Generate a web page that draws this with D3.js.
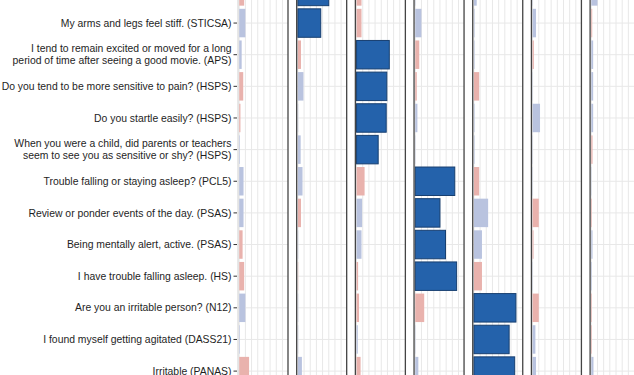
<!DOCTYPE html>
<html>
<head>
<meta charset="utf-8">
<script src="https://cdn.jsdelivr.net/npm/d3@7"></script>
<style>
  body { margin: 0; background: #fff; }
  svg { display: block; }
</style>
</head>
<body>
<div id="chart"></div>
<script>
// items, top to bottom (first one is cut off at the top of the picture)
const items = [
  "",
  "My arms and legs feel stiff. (STICSA)",
  "I tend to remain excited or moved for a long\nperiod of time after seeing a good movie. (APS)",
  "Do you tend to be more sensitive to pain? (HSPS)",
  "Do you startle easily? (HSPS)",
  "When you were a child, did parents or teachers\nseem to see you as sensitive or shy? (HSPS)",
  "Trouble falling or staying asleep? (PCL5)",
  "Review or ponder events of the day. (PSAS)",
  "Being mentally alert, active. (PSAS)",
  "I have trouble falling asleep. (HS)",
  "Are you an irritable person? (N12)",
  "I found myself getting agitated (DASS21)",
  "Irritable (PANAS)"
];

const factors = ["F1", "F2", "F3", "F4", "F5", "F6", "F7"];

// signed loadings, one array per factor, same order as items
const f1 = [-0.08, 0.10, 0.04, -0.065, -0.02, 0.01, 0.07, 0.07, -0.055, -0.08, 0.10, 0.01, -0.16];
const f2 = [0.50, 0.37, -0.05, 0.09, 0.005, 0.045, 0.075, -0.05, 0.005, -0.005, 0.005, 0.005, 0.065];
const f3 = [-0.08, -0.08, 0.53, 0.49, 0.48, 0.35, -0.13, 0.09, 0.08, -0.025, -0.04, 0.02, -0.065];
const f4 = [0.005, 0.10, -0.065, -0.025, 0.035, 0.005, 0.64, 0.40, 0.49, 0.67, -0.145, 0.005, 0.05];
const f5 = [0.045, 0.01, 0.01, -0.085, 0.01, 0.01, -0.085, 0.23, 0.13, -0.13, 0.68, 0.57, 0.66];
const f6 = [0.005, 0.055, -0.02, 0.005, 0.12, 0.005, 0.005, -0.10, -0.015, 0.005, -0.10, 0.045, 0.055];
const f7 = [0.10, -0.015, 0.03, 0.03, 0.03, -0.02, 0.005, -0.01, 0.02, 0.01, -0.01, -0.01, 0.035];

const loadings = [f1, f2, f3, f4, f5, f6, f7];
const gridTicks = [0, 0.1, 0.2, 0.3, 0.4, 0.5, 0.6, 0.7];

// DIMENSIONS
const width = 634, height = 375;
const panelW = 50;

const svg = d3.select('#chart')
  .append('svg')
  .attr('width', width)
  .attr('height', height);

const keys = items.map((d, i) => 'r' + i);

// Scales
const yScale = d3.scaleBand()
  .domain(keys)
  .range([-24.4, -24.4 + 13 * 31.64])
  .paddingInner(0.1)
  .paddingOuter(0.05);

const panelScale = d3.scaleBand()
  .domain(factors)
  .range([238, 238 + 7 * 57.58])
  .paddingInner((57.58 - panelW) / 57.58)
  .paddingOuter(0);

const xScale = d3.scaleLinear()
  .domain([0, 0.8])
  .range([1.2, 50.6]);

// which factor is the main one for each item
const primary = keys.map((k, i) => d3.maxIndex(loadings, (f) => Math.abs(f[i])));

// panels
factors.forEach((fac, fi) => {
  const g = svg.append('g')
    .attr('transform', `translate(${panelScale(fac)},0)`);

  g.append('clipPath')
    .attr('id', 'clip' + fi)
    .append('rect')
    .attr('x', 0).attr('y', -40)
    .attr('width', panelW).attr('height', 460);

  const inner = g.append('g').attr('clip-path', `url(#clip${fi})`);

  inner.append('rect')
    .attr('x', 0).attr('y', -40)
    .attr('width', panelW).attr('height', 460)
    .attr('fill', '#fff');

  // grid
  inner.selectAll('.vgrid')
    .data(gridTicks)
    .enter()
    .append('line')
    .attr('x1', (d) => xScale(d)).attr('x2', (d) => xScale(d))
    .attr('y1', -40).attr('y2', 420)
    .attr('stroke', '#e8e8e8')
    .attr('stroke-width', 1);

  inner.selectAll('.hgrid')
    .data(keys)
    .enter()
    .append('line')
    .attr('x1', 0).attr('x2', panelW)
    .attr('y1', (d) => yScale(d) + yScale.bandwidth() / 2)
    .attr('y2', (d) => yScale(d) + yScale.bandwidth() / 2)
    .attr('stroke', '#e8e8e8')
    .attr('stroke-width', 1);

  // bars
  const rows = keys.map((k, i) => ({ key: k, v: loadings[fi][i], main: primary[i] === fi }));

  inner.selectAll('.bar')
    .data(rows)
    .enter()
    .append('rect')
    .attr('x', xScale(0))
    .attr('y', (d) => yScale(d.key))
    .attr('width', (d) => xScale(Math.abs(d.v)) - xScale(0))
    .attr('height', yScale.bandwidth())
    .attr('fill', (d) => d.main ? '#2462ab' : (d.v >= 0 ? '#b9c3df' : '#e9b2ad'))
    .attr('stroke', (d) => d.main ? '#173f70' : 'none')
    .attr('stroke-width', 1);

  // border
  g.append('line')
    .attr('x1', panelW).attr('x2', panelW)
    .attr('y1', -40).attr('y2', 420)
    .attr('stroke', '#444').attr('stroke-width', 1.3);
  g.append('line')
    .attr('x1', 0).attr('x2', 0)
    .attr('y1', -40).attr('y2', 420)
    .attr('stroke', fi === 0 ? '#d0d0d0' : '#444')
    .attr('stroke-width', fi === 0 ? 1 : 1.3);
});

// y axis labels
const yAxis = svg.append('g')
  .attr('transform', 'translate(237,0)')
  .call(d3.axisLeft(yScale).tickSize(3.5).tickPadding(3).tickFormat(''));
yAxis.select('.domain').remove();
yAxis.selectAll('.tick line').attr('stroke', '#333');

yAxis.selectAll('.tick')
  .each(function (d, i) {
    const lines = items[i].split('\n');
    const t = d3.select(this).append('text')
      .attr('x', -5.5)
      .attr('fill', '#1e1e1e')
      .attr('text-anchor', 'end')
      .style('font-family', 'Liberation Sans, Arial, sans-serif')
      .style('font-size', '10.4px');
    lines.forEach((ln, j) => {
      t.append('tspan')
        .attr('x', -5.5)
        .attr('dy', j === 0 ? (0.35 - (lines.length - 1) * 0.58) + 'em' : '1.16em')
        .text(ln);
    });
  });
</script>
</body>
</html>
